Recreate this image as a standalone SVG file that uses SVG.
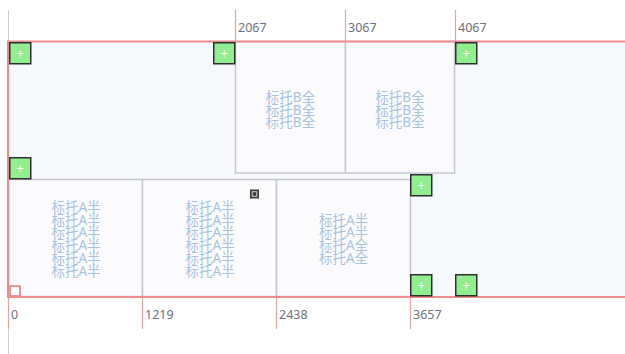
<svg xmlns="http://www.w3.org/2000/svg" width="625" height="354" viewBox="0 0 625 354">
<defs>
<style>
.ruler{font-family:"Noto Sans","Open Sans",sans-serif;font-size:12.5px;fill:#6b7280}
.tick{stroke:#e6a3a3;stroke-width:1.2}
.axis{stroke:#d0d0d0;stroke-width:1}
.box{fill:#fbfbfd;stroke:#c3c7d0;stroke-width:1.5}
.lbl{font-family:"Noto Sans","Noto Sans CJK SC",sans-serif;font-size:13.5px;fill:#a9c3e0;text-anchor:middle}
.h{fill:#90ee90;stroke:#2e2e2e;stroke-width:1.5}
.p{font-family:"DejaVu Sans",sans-serif;font-size:10px;fill:#ffffff;text-anchor:middle}
</style>
<g id="handle">
<rect class="h" x="0.75" y="0.75" width="21" height="21"/>
<text class="p" x="11.25" y="15">+</text>
</g>
</defs>
<rect width="625" height="354" fill="#ffffff"/>
<g id="rulers">
<line class="axis" x1="8.5" y1="10" x2="8.5" y2="354"/>
<line class="tick" x1="235.5" y1="10" x2="235.5" y2="41"/>
<line class="tick" x1="345.5" y1="10" x2="345.5" y2="41"/>
<line class="tick" x1="455.5" y1="10" x2="455.5" y2="41"/>
<text class="ruler" x="238" y="31.5">2067</text>
<text class="ruler" x="348" y="31.5">3067</text>
<text class="ruler" x="458" y="31.5">4067</text>
<line class="tick" x1="8.5" y1="297" x2="8.5" y2="329"/>
<line class="tick" x1="142.5" y1="297" x2="142.5" y2="329"/>
<line class="tick" x1="276.5" y1="297" x2="276.5" y2="329"/>
<line class="tick" x1="410.5" y1="297" x2="410.5" y2="329"/>
<text class="ruler" x="11" y="318.5">0</text>
<text class="ruler" x="145" y="318.5">1219</text>
<text class="ruler" x="279" y="318.5">2438</text>
<text class="ruler" x="413" y="318.5">3657</text>
</g>
<g id="container">
<rect x="8" y="41.5" width="640" height="255.5" fill="#f7f8fc" stroke="none"/>
</g>
<g id="boxB1">
<rect class="box" x="235.5" y="41.5" width="110" height="131.5"/>
<text class="lbl" x="290.5" y="102">标托B全</text>
<text class="lbl" x="290.5" y="114.5">标托B全</text>
<text class="lbl" x="290.5" y="127">标托B全</text>
</g>
<g id="boxB2">
<rect class="box" x="345.5" y="41.5" width="109" height="131.5"/>
<text class="lbl" x="400" y="102">标托B全</text>
<text class="lbl" x="400" y="114.5">标托B全</text>
<text class="lbl" x="400" y="127">标托B全</text>
</g>
<g id="boxA1">
<rect class="box" x="8.5" y="179.5" width="134" height="117"/>
<text class="lbl" x="76" y="212">标托A半</text>
<text class="lbl" x="76" y="224.7">标托A半</text>
<text class="lbl" x="76" y="237.4">标托A半</text>
<text class="lbl" x="76" y="250.1">标托A半</text>
<text class="lbl" x="76" y="262.8">标托A半</text>
<text class="lbl" x="76" y="275.5">标托A半</text>
</g>
<g id="boxA2">
<rect class="box" x="142.5" y="179.5" width="134" height="117"/>
<text class="lbl" x="210" y="212">标托A半</text>
<text class="lbl" x="210" y="224.7">标托A半</text>
<text class="lbl" x="210" y="237.4">标托A半</text>
<text class="lbl" x="210" y="250.1">标托A半</text>
<text class="lbl" x="210" y="262.8">标托A半</text>
<text class="lbl" x="210" y="275.5">标托A半</text>
<g id="icon">
<rect x="250" y="189.5" width="9" height="9" fill="#3a3a3a"/>
<rect x="252.2" y="191.7" width="4.6" height="4.6" fill="none" stroke="#d8d8d8" stroke-width="1"/>
</g>
</g>
<g id="boxA3">
<rect class="box" x="276.5" y="179.5" width="134" height="117"/>
<text class="lbl" x="343.5" y="224.5">标托A半</text>
<text class="lbl" x="343.5" y="237.2">标托A半</text>
<text class="lbl" x="343.5" y="249.9">标托A全</text>
<text class="lbl" x="343.5" y="262.6">标托A全</text>
</g>
<g id="border">
<rect x="8" y="41.5" width="640" height="255.5" fill="none" stroke="#f08b8b" stroke-width="2"/>
<rect x="10" y="286" width="10" height="10" fill="#ffffff" stroke="#f08b8b" stroke-width="1.8"/>
</g>
<g id="handles">
<use href="#handle" x="9" y="42"/>
<use href="#handle" x="213" y="42"/>
<use href="#handle" x="455" y="42"/>
<use href="#handle" x="9" y="157"/>
<use href="#handle" x="410" y="174"/>
<use href="#handle" x="410" y="274"/>
<use href="#handle" x="455" y="274"/>
</g>
</svg>
